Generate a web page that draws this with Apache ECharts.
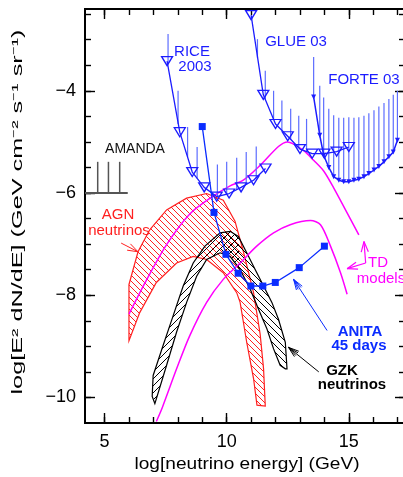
<!DOCTYPE html>
<html><head><meta charset="utf-8">
<script src="https://cdn.jsdelivr.net/npm/echarts@6/dist/echarts.min.js"></script>
<style>html,body{margin:0;padding:0;background:#fff}#c{width:403px;height:477px}</style>
</head><body><div id="c"></div>
<script>
// ---- axis ticks ----
const xMajorTicks = [5, 10, 15];
const xMinorTicks = [5, 6, 7, 8, 9, 10, 11, 12, 13, 14, 15, 16, 17];
const yMajorTicks = [-10, -8, -6, -4];
const yMinorTicks = [-10, -9.5, -9, -8.5, -8, -7.5, -7, -6.5, -6, -5.5, -5, -4.5, -4, -3.5, -3, -2.5];

// ---- AMANDA ----
const amandaRange = [4.2, 5.95];
const amandaLevel = -6.0;
const amandaHatchX = [4.72, 5.16, 5.62];
const amandaHatchTop = -5.39;

// ---- RICE 2003 ----
const riceX = [7.56, 8.08, 8.59, 9.08, 9.59, 10.10, 10.59, 11.10, 11.59];
const riceY = [-3.42, -4.81, -5.59, -5.89, -6.07, -6.01, -5.89, -5.75, -5.52];
const riceHatchX = [7.60, 8.01, 8.40, 8.79, 9.62, 10.0, 10.41, 10.80, 11.21];
const riceHatchBottom = [-3.45, -4.65, -5.30, -5.71, -6.06, -6.02, -5.93, -5.83, -5.71];
const riceHatchTop = [-2.89, -4.0, -4.71, -5.10, -5.44, -5.39, -5.31, -5.20, -5.09];

// ---- GLUE 03 ----
const glueX = [11, 11.5, 12, 12.5, 13, 13.5, 14, 14.5, 15];
const glueY = [-2.52, -4.08, -4.65, -4.89, -5.14, -5.23, -5.23, -5.19, -5.10];
const glueHatchX = [11.26, 11.58, 11.92, 12.26, 12.62, 12.95, 13.27];
const glueHatchBottom = [-3.36, -4.17, -4.57, -4.78, -4.95, -5.12, -5.19];
const glueHatchTop = [-2.99, -3.61, -4.0, -4.19, -4.35, -4.49, -4.55];

// ---- FORTE 03 ----
const forteX = [13.56, 13.81, 13.97, 14.18, 14.38, 14.59, 14.79, 15.0, 15.21, 15.41, 15.62, 15.82, 16.03, 16.23, 16.44, 16.64, 16.82, 16.99];
const forteY = [-4.12, -4.87, -5.26, -5.50, -5.68, -5.75, -5.78, -5.78, -5.75, -5.73, -5.68, -5.62, -5.55, -5.48, -5.39, -5.29, -5.20, -4.97];
const forteTop = [-3.34, -3.90, -4.13, -4.35, -4.48, -4.53, -4.53, -4.52, -4.53, -4.52, -4.49, -4.44, -4.38, -4.31, -4.24, -4.16, -4.08, -4.0];

// ---- ANITA 45 days ----
const anitaX = [9.0, 9.48, 9.97, 10.47, 10.99, 11.48, 11.99, 12.97, 14.0];
const anitaY = [-4.70, -6.38, -7.20, -7.57, -7.82, -7.82, -7.75, -7.46, -7.04];

// ---- AGN neutrinos band ----
const agnUpperX = [6.0, 6.37, 6.85, 7.54, 8.36, 9.18, 9.86, 10.34, 10.68, 11.10, 11.37, 11.51, 11.58];
const agnUpperY = [-7.79, -7.15, -6.72, -6.33, -6.10, -6.01, -6.14, -6.55, -7.14, -7.95, -8.76, -9.44, -10.17];
const agnLowerX = [6.0, 6.44, 7.12, 7.95, 8.63, 9.18, 9.86, 10.41, 10.55, 10.82, 11.10, 11.24];
const agnLowerY = [-8.89, -8.34, -7.75, -7.37, -7.24, -7.30, -7.56, -7.95, -8.14, -8.92, -9.63, -10.15];

// ---- GZK neutrinos band ----
const gzkUpperX = [6.95, 6.99, 7.40, 7.81, 8.22, 8.63, 9.11, 9.73, 10.14, 10.48, 10.82, 11.17, 11.51, 11.85, 12.12, 12.40, 12.47];
const gzkUpperY = [-9.98, -9.57, -8.98, -8.40, -7.82, -7.37, -7.04, -6.78, -6.75, -6.85, -7.17, -7.50, -7.82, -8.14, -8.47, -8.92, -9.44];
const gzkLowerX = [7.06, 7.54, 7.95, 8.36, 8.77, 9.18, 9.73, 10.14, 10.55, 10.96, 11.30, 11.65, 11.92, 12.19, 12.40];
const gzkLowerY = [-10.12, -9.37, -8.72, -8.14, -7.63, -7.30, -7.17, -7.24, -7.50, -7.88, -8.27, -8.66, -9.05, -9.37, -9.44];

// ---- TD models ----
const td1X = [6.0, 6.71, 7.54, 8.49, 9.45, 10.14, 10.68, 11.37, 12.12, 12.49, 13.15, 13.56, 13.97, 14.38, 14.93, 15.41];
const td1Y = [-8.37, -7.71, -7.01, -6.41, -6.06, -5.86, -5.75, -5.46, -5.09, -5.0, -5.17, -5.36, -5.57, -5.90, -6.39, -6.82];
const td2X = [7.12, 7.37, 7.95, 8.49, 9.18, 9.86, 10.55, 11.23, 11.92, 12.60, 13.43, 13.84, 14.25, 14.66, 14.93];
const td2Y = [-10.47, -10.19, -9.44, -8.79, -8.14, -7.69, -7.37, -7.04, -6.78, -6.62, -6.54, -6.62, -7.04, -7.56, -7.98];

// ---- annotation arrows [fromX, fromY, toX, toY] ----
const agnArrow = [5.68, -6.98, 6.37, -7.15];
const anitaArrow = [14.11, -8.69, 12.74, -7.69];
const gzkArrow = [13.77, -9.50, 12.53, -9.02];
const tdArrowA = [15.69, -7.37, 14.93, -7.48];
const tdArrowB = [15.69, -7.37, 15.62, -6.95];

// ---------------------------------------------------------
const xMin = 4.2, xMax = 17.3, yMin = -10.5, yMax = -2.4;
const BLUE = '#1c1cff', HBLUE = '#5d6dff', RED = '#ff2020', MAG = '#ff00ff', ANB = '#0a2cff';
const FONT = '"Liberation Sans", Arial, Helvetica, sans-serif';

const zip = (xs, ys) => xs.map((x, i) => [x, ys[i]]);

function hatch(color, dir, size, lw) {
  const c = document.createElement('canvas');
  c.width = c.height = size;
  const g = c.getContext('2d');
  g.strokeStyle = color; g.lineWidth = lw;
  g.beginPath();
  for (let k = -1; k <= 1; k++) {
    if (dir === '\\') { g.moveTo(k * size, 0); g.lineTo(k * size + size, size); }
    else { g.moveTo(k * size, size); g.lineTo(k * size + size, 0); }
  }
  g.stroke();
  return { image: c, repeat: 'repeat' };
}

function clipRect(params) {
  const cs = params.coordSys;
  return { type: 'rect', shape: { x: cs.x, y: cs.y, width: cs.width, height: cs.height } };
}

function bandRender(parts, outline, stroke) {
  return function (params, api) {
    const children = parts.map(p => ({
      type: 'polygon', shape: { points: p.pts.map(q => api.coord(q)) },
      style: { fill: p.fill, stroke: null, lineWidth: 0 }
    }));
    children.push({
      type: 'polygon', shape: { points: outline.map(q => api.coord(q)) },
      style: { fill: null, stroke: stroke, lineWidth: 1.2 }
    });
    return { type: 'group', children: children, clipPath: clipRect(params) };
  };
}

function vlineRender(color, width) {
  return function (params, api) {
    const a = api.coord([api.value(0), api.value(1)]);
    const b = api.coord([api.value(0), api.value(2)]);
    return { type: 'line', shape: { x1: a[0], y1: a[1], x2: b[0], y2: b[1] }, style: { stroke: color, lineWidth: width } };
  };
}

function arrowRender(color, width, fan) {
  return function (params, api) {
    const a = api.coord([api.value(0), api.value(1)]);
    const b = api.coord([api.value(2), api.value(3)]);
    const ang = Math.atan2(a[1] - b[1], a[0] - b[0]);
    const L = 11;
    const spreads = fan ? [-0.32, -0.16, 0.16, 0.32] : [-0.33, 0.33];
    const children = [{ type: 'line', shape: { x1: a[0], y1: a[1], x2: b[0], y2: b[1] }, style: { stroke: color, lineWidth: width } }];
    spreads.forEach(s => {
      children.push({ type: 'line', shape: { x1: b[0], y1: b[1], x2: b[0] + L * Math.cos(ang + s), y2: b[1] + L * Math.sin(ang + s) }, style: { stroke: color, lineWidth: width } });
    });
    return { type: 'group', children: children };
  };
}

const agnOutline = zip(agnUpperX, agnUpperY).concat(zip(agnLowerX, agnLowerY).reverse());
const gzkUp = zip(gzkUpperX, gzkUpperY), gzkLo = zip(gzkLowerX, gzkLowerY);
const gzkOutline = gzkUp.concat(gzkLo.slice().reverse());
const gzkLeft = gzkUp.filter(p => p[0] <= 10.6).concat(gzkLo.filter(p => p[0] <= 10.6).reverse());
const gzkRight = gzkUp.filter(p => p[0] >= 9.6).concat(gzkLo.filter(p => p[0] >= 9.6).reverse());

function xAx(pos, vals, len, labels) {
  return {
    type: 'value', min: xMin, max: xMax, position: pos, gridIndex: 0,
    axisLine: { show: true, onZero: false, lineStyle: { color: '#000', width: 2 } },
    axisTick: { show: true, inside: true, length: len, customValues: vals, lineStyle: { color: '#000', width: 1.4 } },
    axisLabel: { show: labels, customValues: vals, margin: 10, color: '#000', fontSize: 18, fontFamily: FONT },
    splitLine: { show: false }
  };
}
function yAx(pos, vals, len, labels) {
  return {
    type: 'value', min: yMin, max: yMax, position: pos, gridIndex: 0,
    axisLine: { show: true, onZero: false, lineStyle: { color: '#000', width: 2 } },
    axisTick: { show: true, inside: true, length: len, customValues: vals, lineStyle: { color: '#000', width: 1.4 } },
    axisLabel: { show: labels, customValues: vals, margin: 9, color: '#000', fontSize: 18, fontFamily: FONT,
      formatter: v => String(v).replace('-', '\u2212') },
    splitLine: { show: false }
  };
}

function measure(text, font) {
  const g = document.createElement('canvas').getContext('2d');
  g.font = font; return g.measureText(text).width;
}
const yTitle = 'log[E\u00b2 dN/dE] (GeV cm\u207b\u00b2 s\u207b\u00b9 sr\u207b\u00b9)';
const xTitle = 'log[neutrino energy] (GeV)';
const yTitleFont = '14px ' + FONT, xTitleFont = '17px ' + FONT;
const yScale = 365 / measure(yTitle, yTitleFont);
const xScale = 225 / measure(xTitle, xTitleFont);

function label(text, x, y, color, size, bold) {
  return { type: 'text', x: x, y: y, silent: true, z: 100,
    style: { text: text, fill: color, font: (bold ? 'bold ' : '') + size + 'px ' + FONT,
      align: 'center', verticalAlign: 'middle', textAlign: 'center', textVerticalAlign: 'middle' } };
}

const yTitleEl = label(yTitle, 18, 212, '#000', 14, false);
yTitleEl.rotation = Math.PI / 2;
yTitleEl.scaleX = yScale;
const xTitleEl = label(xTitle, 247, 464, '#000', 17, false);
xTitleEl.scaleX = xScale;

const chart = echarts.init(document.getElementById('c'), null, { renderer: 'canvas' });
chart.setOption({
  animation: false,
  backgroundColor: '#fff',
  grid: { left: 85, top: 9, right: -2, bottom: 54, containLabel: false, outerBoundsMode: 'none' },
  xAxis: [xAx('bottom', xMajorTicks, 10, true), xAx('bottom', xMinorTicks, 6, false),
          xAx('top', xMajorTicks, 10, false), xAx('top', xMinorTicks, 6, false)],
  yAxis: [yAx('left', yMajorTicks, 10, true), yAx('left', yMinorTicks, 6, false),
          yAx('right', yMajorTicks, 10, false), yAx('right', yMinorTicks, 6, false)],
  graphic: [
    yTitleEl,
    xTitleEl,
    label('AMANDA', 135, 149, '#111', 14, false),
    label('RICE', 192, 52, BLUE, 15, false),
    label('2003', 195, 67, BLUE, 15, false),
    label('GLUE 03', 296, 42, BLUE, 15, false),
    label('FORTE 03', 364, 80, BLUE, 15, false),
    label('AGN', 118, 215, RED, 15, false),
    label('neutrinos', 119, 231, RED, 15, false),
    label('TD', 378, 263, MAG, 15, false),
    label('models', 381, 279, MAG, 15, false),
    label('ANITA', 360, 332, ANB, 15, true),
    label('45 days', 359, 346, ANB, 15, true),
    label('GZK', 342, 371, '#000', 15, true),
    label('neutrinos', 352, 385, '#000', 15, true)
  ],
  series: [
    { type: 'custom', name: 'AGN', silent: true, z: 2, data: [[0, 0]],
      renderItem: bandRender([{ pts: agnOutline, fill: hatch(RED, '\\', 6, 1) }], agnOutline, RED) },
    { type: 'custom', name: 'GZK', silent: true, z: 3, data: [[0, 0]],
      renderItem: bandRender([{ pts: gzkLeft, fill: hatch('#000', '/', 7, 1) }, { pts: gzkRight, fill: hatch('#000', '\\', 7, 1) }], gzkOutline, '#000') },
    { type: 'line', name: 'TD1', data: zip(td1X, td1Y), symbol: 'none', smooth: 0.3, lineStyle: { color: MAG, width: 1.5 }, z: 4 },
    { type: 'line', name: 'TD2', data: zip(td2X, td2Y), symbol: 'none', smooth: 0.3, lineStyle: { color: MAG, width: 1.5 }, z: 4 },
    { type: 'line', name: 'AMANDA', data: [[amandaRange[0], amandaLevel], [amandaRange[1], amandaLevel]], symbol: 'none', lineStyle: { color: '#555', width: 2 }, z: 4 },
    { type: 'custom', name: 'AMANDA hatch', silent: true, z: 4, data: amandaHatchX.map(x => [x, amandaLevel, amandaHatchTop]),
      renderItem: vlineRender('#555', 1.5) },
    { type: 'custom', name: 'RICE hatch', silent: true, z: 5, data: riceHatchX.map((x, i) => [x, riceHatchBottom[i], riceHatchTop[i]]),
      renderItem: vlineRender(HBLUE, 1.2) },
    { type: 'custom', name: 'GLUE hatch', silent: true, z: 5, data: glueHatchX.map((x, i) => [x, glueHatchBottom[i], glueHatchTop[i]]),
      renderItem: vlineRender(HBLUE, 1.2) },
    { type: 'custom', name: 'FORTE hatch', silent: true, z: 5, data: forteX.map((x, i) => [x, forteY[i], forteTop[i]]),
      renderItem: vlineRender(HBLUE, 1.2) },
    { type: 'line', name: 'RICE 2003', data: zip(riceX, riceY), symbol: 'triangle', symbolRotate: 180, symbolSize: [11, 9], showAllSymbol: true,
      lineStyle: { color: BLUE, width: 1.3 }, itemStyle: { color: 'rgba(255,255,255,0)', borderColor: BLUE, borderWidth: 1.3 }, z: 6 },
    { type: 'line', name: 'GLUE 03', data: zip(glueX, glueY), symbol: 'triangle', symbolRotate: 180, symbolSize: [11, 9], showAllSymbol: true,
      lineStyle: { color: BLUE, width: 1.3 }, itemStyle: { color: 'rgba(255,255,255,0)', borderColor: BLUE, borderWidth: 1.3 }, z: 6 },
    { type: 'line', name: 'FORTE 03', data: zip(forteX, forteY), symbol: 'triangle', symbolRotate: 180, symbolSize: [5, 5], showAllSymbol: true,
      lineStyle: { color: BLUE, width: 1.5 }, itemStyle: { color: BLUE }, z: 6 },
    { type: 'line', name: 'ANITA', data: zip(anitaX, anitaY), symbol: 'rect', symbolSize: 7, showAllSymbol: true,
      lineStyle: { color: ANB, width: 1.3 }, itemStyle: { color: ANB }, z: 7 },
    { type: 'custom', name: 'AGN arrow', silent: true, z: 8, data: [agnArrow], renderItem: arrowRender(RED, 1, false) },
    { type: 'custom', name: 'ANITA arrow', silent: true, z: 8, data: [anitaArrow], renderItem: arrowRender(ANB, 1, true) },
    { type: 'custom', name: 'GZK arrow', silent: true, z: 8, data: [gzkArrow], renderItem: arrowRender('#000', 1, true) },
    { type: 'custom', name: 'TD arrow', silent: true, z: 8, data: [tdArrowA, tdArrowB], renderItem: arrowRender(MAG, 1.2, false) }
  ]
});
</script></body></html>
